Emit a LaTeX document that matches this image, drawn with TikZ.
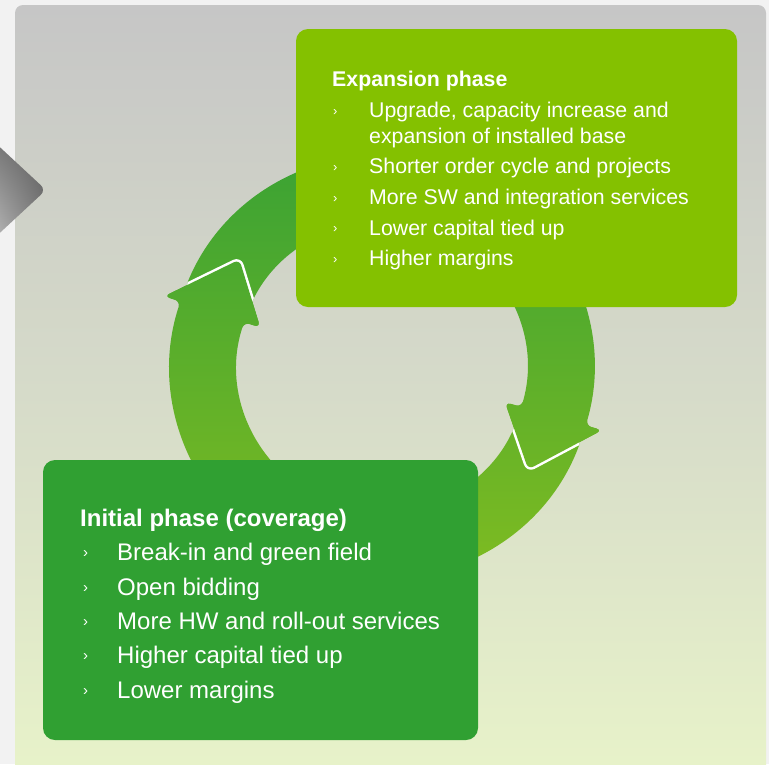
\documentclass[tikz,border=0pt]{standalone}
\usepackage{fontspec}
\setmainfont{Liberation Sans}
\usetikzlibrary{shadings}
\begin{document}
\begin{tikzpicture}[x=1pt,y=1pt,
  panelfill/.style={top color=panelTop, bottom color=panelBot, middle color=panelMid},
  phasebox/.style={rounded corners=12pt},
  head/.style={anchor=base west, inner sep=0pt, text=white, font=\fontsize{#1}{#1}\selectfont\bfseries},
  item/.style={anchor=base west, inner sep=0pt, text=white, font=\fontsize{#1}{#1}\selectfont},
  bul/.style={anchor=base west, inner sep=0pt, text=white, font=\fontsize{#1}{#1}\selectfont},
  seam/.style={draw=white, line width=5pt, line join=round, rounded corners=6pt}
]
\definecolor{outerBg}{RGB}{242,242,242}
\definecolor{panelTop}{RGB}{198,198,198}
\definecolor{panelMid}{RGB}{214,219,201}
\definecolor{panelBot}{RGB}{232,243,201}
\definecolor{expGreen}{RGB}{132,193,0}
\definecolor{iniGreen}{RGB}{48,160,50}
\definecolor{ringTop}{RGB}{58,162,52}
\definecolor{ringBot}{RGB}{130,189,32}
\definecolor{chevUL}{RGB}{120,120,120}
\definecolor{chevUR}{RGB}{92,92,92}
\definecolor{chevLL}{RGB}{192,192,192}
\definecolor{chevLR}{RGB}{122,122,122}

\useasboundingbox (0,0) rectangle (769,-764);
\fill[outerBg] (0,0) rectangle (769,-764);

% background panel
\shade[panelfill, rounded corners=8pt] (15,-5) rectangle (766,-780);

% side chevron
\shade[upper left=chevUL, upper right=chevUR, lower left=chevLL, lower right=chevLR]
  [rounded corners=7pt] (-10,-138) -- (46,-190) -- (-10,-242) -- cycle;

% ---- circular arrows around the centre (382,-367) ----
\def\ringshade{\shade[top color=ringTop, bottom color=ringBot] (150,-150) rectangle (620,-600);}
\def\arrowA{[rounded corners=6pt] (-20:212) arc[start angle=-20, end angle=-198, radius=212]
   -- (-198:229) -- (-217:178.5) -- (-198:128) -- (-198:145)
   arc[start angle=-198, end angle=-20, radius=145] -- cycle}
\def\arrowB{[rounded corners=6pt] (158:212) arc[start angle=158, end angle=-16, radius=212]
   -- (-16:229) -- (-35:178.5) -- (-16:128) -- (-16:145)
   arc[start angle=-16, end angle=158, radius=145] -- cycle}
\def\headA{[rounded corners=6pt] (-198:229) -- (-217:178.5) -- (-198:128) -- cycle}
\def\headB{[rounded corners=6pt] (-16:229) -- (-35:178.5) -- (-16:128) -- cycle}

\begin{scope}[shift={(382,-367)}]
  % lower arrow
  \begin{scope}\clip \arrowA; \begin{scope}[shift={(-382,367)}]\ringshade\end{scope}\end{scope}
  % upper arrow
  \begin{scope}\clip \arrowB; \begin{scope}[shift={(-382,367)}]\ringshade\end{scope}\end{scope}
  % white seam of the right head where it lies on the lower arrow
  \begin{scope}\clip \arrowA; \draw[seam] \headB; \end{scope}
  \begin{scope}\clip \headB; \begin{scope}[shift={(-382,367)}]\ringshade\end{scope}\end{scope}
  % left head laid back over the tail of the upper arrow
  \begin{scope}\clip \arrowB; \draw[seam] \headA; \end{scope}
  \begin{scope}\clip \headA; \begin{scope}[shift={(-382,367)}]\ringshade\end{scope}\end{scope}
\end{scope}

% ---- expansion phase box ----
\fill[expGreen, phasebox] (296,-29) rectangle (737,-307);
\node[head=21.3] (eh) at (332,-86.5) {Expansion phase};
\node[bul=13] (eb1) at (333,-115) {›};
\node[item=21.3] (e1) at (369,-117.5) {Upgrade, capacity increase and};
\node[item=21.3] (e1b) at (369,-143) {expansion of installed base};
\node[bul=13] (eb2) at (333,-171) {›};
\node[item=21.3] (e2) at (369,-173.5) {Shorter order cycle and projects};
\node[bul=13] (eb3) at (333,-202) {›};
\node[item=21.3] (e3) at (369,-204) {More SW and integration services};
\node[bul=13] (eb4) at (333,-232.5) {›};
\node[item=21.3] (e4) at (369,-235) {Lower capital tied up};
\node[bul=13] (eb5) at (333,-263) {›};
\node[item=21.3] (e5) at (369,-265.5) {Higher margins};

% ---- initial phase box ----
\fill[iniGreen, phasebox] (43,-460) rectangle (478,-740);
\node[head=24] (ih) at (80,-526) {Initial phase (coverage)};
\node[bul=15] (ib1) at (83,-557) {›};
\node[item=24] (i1) at (117,-560) {Break-in and green field};
\node[bul=15] (ib2) at (83,-592) {›};
\node[item=24] (i2) at (117,-595) {Open bidding};
\node[bul=15] (ib3) at (83,-626) {›};
\node[item=24] (i3) at (117,-629) {More HW and roll-out services};
\node[bul=15] (ib4) at (83,-660) {›};
\node[item=24] (i4) at (117,-663) {Higher capital tied up};
\node[bul=15] (ib5) at (83,-695) {›};
\node[item=24] (i5) at (117,-698) {Lower margins};
\end{tikzpicture}
\end{document}
